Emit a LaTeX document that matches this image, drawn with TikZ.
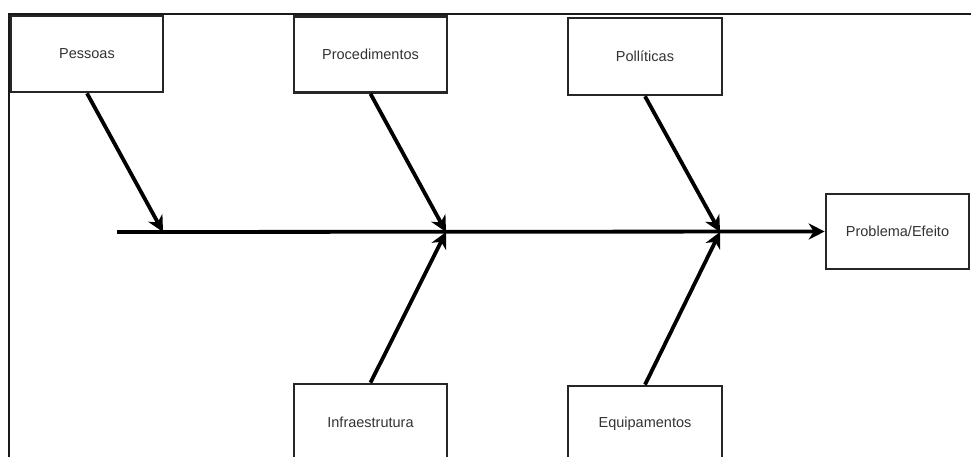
\documentclass[tikz,border=0pt]{standalone}
\usepackage{fontspec}
\setmainfont{Liberation Sans}
\usetikzlibrary{arrows.meta}
\definecolor{txt}{HTML}{333333}
\tikzset{
  box/.style={draw=black!85, line width=2.6pt, fill=white, inner sep=0pt,
    minimum width=153pt, minimum height=76pt, text=txt,
    font=\fontsize{14.5}{17}\selectfont},
  bone/.style={line width=3.8pt, -{Stealth[length=16pt,width=16pt,inset=5pt]}},
  frameline/.style={line width=2.6pt, black!90}
}
\begin{document}
\begin{tikzpicture}[x=1pt,y=-1pt]
\useasboundingbox (0,0) rectangle (971,457);
\clip (0,0) rectangle (971,457);
\fill[white] (0,0) rectangle (971,457);
% frame
\draw[frameline] (8,14) -- (972,14);
\draw[frameline] (9,13) -- (9,458);
% boxes
\node[box, minimum width=152pt] (pes) at (87,54) {Pessoas};
\node[box] (proc) at (370.5,54.5) {Procedimentos};
\node[box, minimum width=154pt, minimum height=77pt] (pol) at (645,56.5) {Pollíticas};
\node[box, minimum width=143pt, minimum height=75pt] (prob) at (897.5,231.5) {Problema/Efeito};
\node[box] (inf) at (370.5,422) {Infraestrutura};
\node[box, minimum width=154pt] (equ) at (645,424) {Equipamentos};
% spine
\coordinate (s0) at (117,232);
\coordinate (j1) at (163,232);
\coordinate (j2) at (446,232);
\coordinate (j3) at (720,232);
\draw[bone] (s0) -- (prob.west);
\draw[bone] (pes.south) -- (j1);
\draw[bone] (proc.south) -- (j2);
\draw[bone] (pol.south) -- (j3);
\draw[bone] (inf.north) -- (j2);
\draw[bone] (equ.north) -- (j3);
\end{tikzpicture}
\end{document}
